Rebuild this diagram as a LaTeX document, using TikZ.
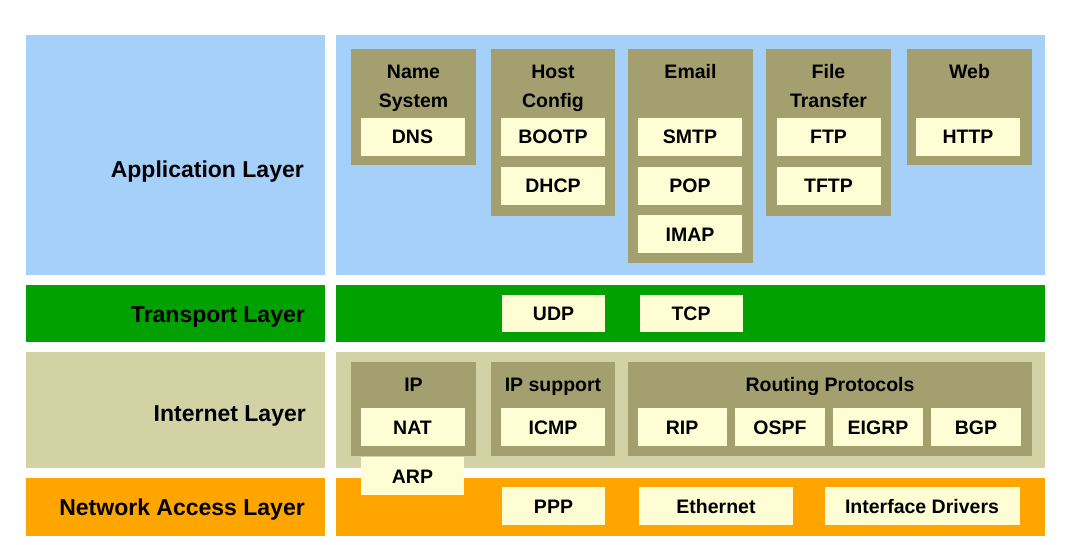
\documentclass[tikz,border=0pt]{standalone}
\usepackage{fontspec}
\setmainfont{Liberation Sans}
\definecolor{appblue}{RGB}{164,208,250}
\definecolor{trgreen}{RGB}{0,161,0}
\definecolor{intan}{RGB}{211,210,165}
\definecolor{naorange}{RGB}{255,165,0}
\definecolor{olive}{RGB}{163,159,111}
\definecolor{cream}{RGB}{255,253,211}
\tikzset{
  band/.style={anchor=north west, inner sep=0pt, outer sep=0pt, draw=none},
  grp/.style={anchor=north west, inner sep=0pt, outer sep=0pt, fill=olive},
  proto/.style={inner sep=0pt, outer sep=0pt, fill=cream, minimum width=104pt, minimum height=38pt,
    font=\fontsize{19.5}{24}\selectfont\bfseries, text height=14pt, text depth=0pt},
  title/.style={anchor=base, inner sep=0pt, font=\fontsize{19.5}{29}\selectfont\bfseries, align=center},
  lname/.style={anchor=base east, inner sep=0pt, font=\fontsize{23}{27}\selectfont\bfseries}
}
\begin{document}
\begin{tikzpicture}[x=1pt,y=-1pt]
\useasboundingbox (0,0) rectangle (1086,544);
\fill[white] (0,0) rectangle (1086,544);
% layer bands
\node[band, fill=appblue, minimum width=299pt, minimum height=240pt] (appL) at (26,35) {};
\node[band, fill=appblue, minimum width=709pt, minimum height=240pt] (appR) at (336,35) {};
\node[band, fill=trgreen, minimum width=299pt, minimum height=57pt] (trL) at (26,285) {};
\node[band, fill=trgreen, minimum width=709pt, minimum height=57pt] (trR) at (336,285) {};
\node[band, fill=intan, minimum width=299pt, minimum height=116pt] (inL) at (26,352) {};
\node[band, fill=intan, minimum width=709pt, minimum height=116pt] (inR) at (336,352) {};
\node[band, fill=naorange, minimum width=299pt, minimum height=58pt] (naL) at (26,478) {};
\node[band, fill=naorange, minimum width=709pt, minimum height=58pt] (naR) at (336,478) {};
% layer names
\node[lname] (tApp) at (304,177.5) {Application Layer};
\node[lname] (tTr) at (305,322) {Transport Layer};
\node[lname] (tIn) at (306,421) {Internet Layer};
\node[lname] (tNa) at (305,515) {Network Access Layer};
% application groups
\node[grp, minimum width=125pt, minimum height=116pt] (gName) at (351,49) {};
\node[grp, minimum width=124pt, minimum height=167pt] (gHost) at (491,49) {};
\node[grp, minimum width=125pt, minimum height=214pt] (gEmail) at (628,49) {};
\node[grp, minimum width=125pt, minimum height=167pt] (gFile) at (766,49) {};
\node[grp, minimum width=125pt, minimum height=116pt] (gWeb) at (907,49) {};
\node[title] (hName) at (413.5,107) {Name\\System};
\node[title] (hHost) at (553,107) {Host\\Config};
\node[title] (hEmail) at (690.5,78) {Email};
\node[title] (hFile) at (828.5,107) {File\\Transfer};
\node[title] (hWeb) at (969.5,78) {Web};
\node[proto] (dns) at (412.5,136.5) {DNS};
\node[proto] (bootp) at (553,136.5) {BOOTP};
\node[proto] (dhcp) at (553,185.5) {DHCP};
\node[proto] (smtp) at (690,136.5) {SMTP};
\node[proto] (pop) at (690,185.5) {POP};
\node[proto] (imap) at (690,234) {IMAP};
\node[proto] (ftp) at (828.5,136.5) {FTP};
\node[proto] (tftp) at (828.5,185.5) {TFTP};
\node[proto] (http) at (968,136.5) {HTTP};
% transport
\node[proto, minimum width=103pt, minimum height=37pt] (udp) at (553.5,313.5) {UDP};
\node[proto, minimum width=103pt, minimum height=37pt] (tcp) at (691,313.5) {TCP};
% internet groups
\node[grp, minimum width=125pt, minimum height=94pt] (gIP) at (351,362) {};
\node[grp, minimum width=124pt, minimum height=94pt] (gIPs) at (491,362) {};
\node[grp, minimum width=404pt, minimum height=94pt] (gRout) at (628,362) {};
\node[title] (hIP) at (413.5,391.5) {IP};
\node[title] (hIPs) at (553,391.5) {IP support};
\node[title] (hRout) at (830,391) {Routing Protocols};
\node[proto] (nat) at (412.5,427) {NAT};
\node[proto] (icmp) at (553,427) {ICMP};
\node[proto, minimum width=89pt] (rip) at (682,427) {RIP};
\node[proto, minimum width=90pt] (ospf) at (780,427) {OSPF};
\node[proto, minimum width=90pt] (eigrp) at (878,427) {EIGRP};
\node[proto, minimum width=90pt] (bgp) at (976,427) {BGP};
% network access
\node[proto, minimum width=103pt] (ppp) at (553.5,506) {PPP};
\node[proto, minimum width=154pt] (eth) at (716,506) {Ethernet};
\node[proto, minimum width=195pt] (drv) at (922,506) {Interface Drivers};
\node[proto, minimum width=103pt] (arp) at (412.5,476) {ARP};
\end{tikzpicture}
\end{document}
